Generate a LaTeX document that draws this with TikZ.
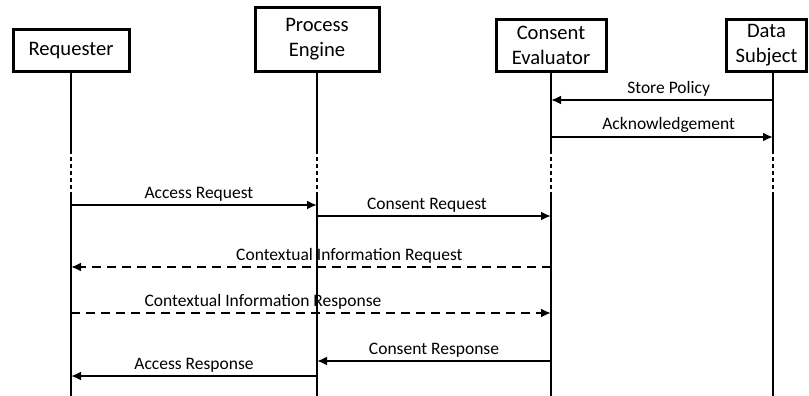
\documentclass[tikz,border=0pt]{standalone}
\usepackage{fontspec}
\setmainfont{Carlito}
\usetikzlibrary{arrows.meta}

\begin{document}
\begin{tikzpicture}[>={Latex[length=5pt,width=4.5pt]},x=0.5pt,y=-0.5pt,
        actor/.style={draw,line width=1.5pt,align=center,anchor=south,inner sep=0pt,
            font=\fontsize{10.3}{12.5}\selectfont},
        life/.style={line width=1pt},
        msg/.style={->,line width=1pt},
        lbl/.style={above,inner sep=1.5pt,font=\fontsize{8.75}{10}\selectfont}]
        \useasboundingbox (0,0) rectangle (809,396);
        \node[actor,minimum width=58pt,minimum height=21pt] (req) at (71,73) {Requester};
        \node[actor,minimum width=62pt,minimum height=32pt] (eng) at (317,73) {Process\\Engine};
        \node[actor,minimum width=55pt,minimum height=26pt] (ce) at (551,73) {Consent\\Evaluator};
        \node[actor,minimum width=40pt,minimum height=26pt] (ds) at (766.5,73) {Data\\Subject};
        \coordinate (dsl) at ([xshift=3.25pt]ds.south);
        \foreach \a in {req.south,eng.south,ce.south,dsl}
        {
            \draw[life] (\a) -- (\a |- 0,150);
            \draw[life,dash pattern=on 2pt off 1.5pt] (\a |- 0,150) -- (\a |- 0,192);
            \draw[life] (\a |- 0,192) -- (\a |- 0,396);
        }
        \draw[msg] (dsl |- 0,100) -- node[lbl,pos=.47]{Store Policy} (ce.south |- 0,100);
        \draw[msg] (ce.south |- 0,137) -- node[lbl,pos=.53]{Acknowledgement} (dsl |- 0,137);
        \draw[msg] (req.south |- 0,205) -- node[lbl,pos=.52]{Access Request} (eng.south |- 0,205);
        \draw[msg] (eng.south |- 0,216) -- node[lbl,pos=.47]{Consent Request} (ce.south |- 0,216);
        \draw[msg,dash pattern=on 4.5pt off 3pt] (ce.south |- 0,267) -- node[lbl,pos=.42]{Contextual Information Request} (req.south |- 0,267);
        \draw[msg,dash pattern=on 4.5pt off 3pt] (req.south |- 0,313) -- node[lbl,pos=.40]{Contextual Information Response} (ce.south |- 0,313);
        \draw[msg] (ce.south |- 0,361) -- node[lbl,pos=.5]{Consent Response} (eng.south |- 0,361);
        \draw[msg] (eng.south |- 0,376) -- node[lbl,pos=.5]{Access Response} (req.south |- 0,376);
    \end{tikzpicture}
\end{document}
